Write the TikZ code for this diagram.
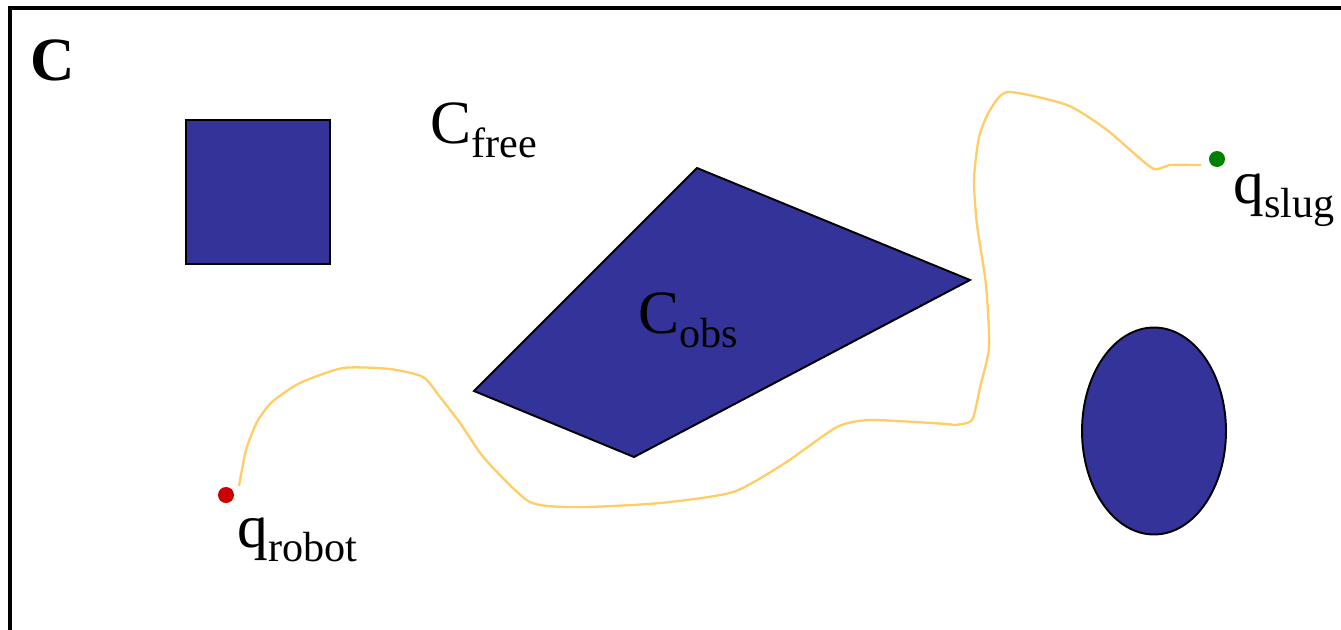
\documentclass[tikz,border=0pt]{standalone}
\usepackage{fontspec}
\setmainfont{Liberation Serif}
\usetikzlibrary{positioning}
\definecolor{obsblue}{RGB}{51,51,153}
\definecolor{pathgold}{RGB}{255,204,102}
\definecolor{robotred}{RGB}{204,0,0}
\definecolor{sluggreen}{RGB}{0,128,0}
\newcommand{\spacename}[2]{#1\raisebox{-8pt}{\fontsize{24}{24}\selectfont #2}}

\begin{document}
\begin{tikzpicture}[
  x=0.02cm, y=-0.02cm,
  obstacle/.style={fill=obsblue,draw=black,line width=1.1pt},
  lbl/.style={anchor=base west,inner sep=0pt,font=\fontsize{35}{35}\selectfont},
  dotnode/.style={circle,fill=#1,inner sep=0pt,minimum size=0.32cm},
  route/.style={draw=pathgold,line width=1.3pt,line join=round},
]
\useasboundingbox (0,0) rectangle (1341,629);
\begin{scope}
  \clip (0,0) rectangle (1341,629);
  \draw[line width=2pt] (10,8) rectangle (1400,700);
\end{scope}

% obstacles
\draw[obstacle] (186,120) rectangle (330,264);
\draw[obstacle] (697,168) -- (970,280) -- (634,457) -- (474,391) -- cycle;
\draw[obstacle] (1154,431) ellipse [x radius=1.44cm, y radius=2.07cm];

% labels
\node[lbl,font=\bfseries\fontsize{35}{35}\selectfont] (cspace) at (30,80) {C};
\node[lbl] (cfree) at (430,143) {\spacename{C}{free}};
\node[lbl] (cobs) at (638,333) {\spacename{C}{obs}};
\node[lbl] (qrobot) at (237,547) {\spacename{q}{robot}};
\node[lbl] (qslug) at (1233,203) {\spacename{q}{slug}};

% start and goal
\node[dotnode=robotred] (robot) at (226,495) {};
\node[dotnode=sluggreen] (slug) at (1217,159) {};
\coordinate (start) at (239,486);
\coordinate (goal) at (1201,165);

% path through free space
\draw[route] plot[smooth,tension=0.4] coordinates {
  (start) (246,450) (257,422) (272,402) (300,383) (343,368) (390,369)
  (423,377) (440,397) (460,423) (485,459) (530,502) (581,507) (660,503)
  (733,492) (785,463) (837,427) (871,420) (947,424) (954,425) (972,420)
  (980,387) (989,347) (986,285) (977,225) (974,180) (979,137) (990,110)
  (1008,92) (1067,105) (1107,130) (1152,168) (1170,165) (goal)};
\end{tikzpicture}
\end{document}
